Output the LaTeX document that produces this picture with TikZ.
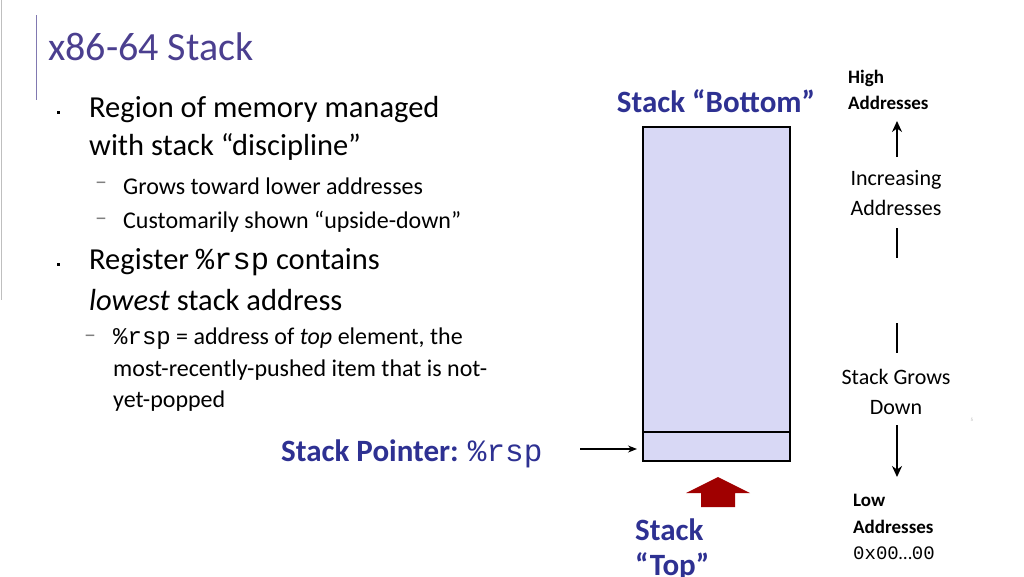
\documentclass[tikz,border=0pt]{standalone}
\usepackage{fontspec}
\setmainfont{Carlito}
\setmonofont{Liberation Mono}
\usetikzlibrary{arrows.meta}
\definecolor{ttl}{HTML}{4B3F8F}
\definecolor{stk}{HTML}{2E3192}
\definecolor{fillstk}{HTML}{D8D8F5}
\definecolor{redarr}{HTML}{A00000}
\tikzset{
  body/.style={anchor=west, inner sep=0pt, font=\fontsize{30.5}{32}\selectfont},
  sub/.style={anchor=west, inner sep=0pt, font=\fontsize{24}{26}\selectfont},
  lbl/.style={align=center, inner sep=0pt, font=\fontsize{22}{30}\selectfont},
  blbl/.style={align=left, inner sep=0pt, font=\bfseries\fontsize{19}{26.5}\selectfont},
  big/.style={inner sep=0pt, text=stk, font=\bfseries\fontsize{31}{36}\selectfont},
  bullet/.style={fill=black, inner sep=0pt, minimum size=3pt}
}
\begin{document}
\begin{tikzpicture}[x=1pt, y=-1pt]
\useasboundingbox (0,0) rectangle (1024,576);
\draw[gray!50, line width=1pt] (1,0) -- (1,300);
\draw[ttl!70, line width=1pt] (36,15) -- (36,100);
\node[anchor=west, inner sep=0pt, text=ttl, font=\fontsize{40}{44}\selectfont] (title) at (48,47) {x86-64 Stack};
% left text
\node[bullet] (b1) at (58,112) {};
\node[body] (t1) at (89,110) {Region of memory managed};
\node[body] (t2) at (89,147) {with stack “discipline”};
\node[sub, text=gray] (d1) at (95,186) {–};
\node[sub] (t3) at (123,186) {Grows toward lower addresses};
\node[sub, text=gray] (d2) at (95,222) {–};
\node[sub] (t4) at (123,222) {Customarily shown “upside-down”};
\node[bullet] (b2) at (58,264) {};
\node[body] (t5) at (89,262) {Register \texttt{\%rsp} contains};
\node[body] (t6) at (89,300) {\textit{lowest} stack address};
\node[sub, text=gray] (d3) at (84,339) {–};
\node[sub] (t7) at (113,339) {\texttt{\%rsp} = address of \textit{top} element, the};
\node[sub] (t8) at (113,370) {most-recently-pushed item that is not-};
\node[sub] (t9) at (113,401) {yet-popped};
% stack
\node[big, anchor=west] (sp) at (281,454) {Stack Pointer: \textmd{\texttt{\%rsp}}};
\draw[fill=fillstk, line width=1.2pt] (643,127) rectangle (790,461);
\draw[line width=1.2pt] (643,432) -- (790,432);
\coordinate (spin) at (637,449);
\draw[-{Stealth[length=9pt,width=7pt]}, line width=1.2pt] (580,449) -- (spin);
\node[big] (bot) at (716,101) {Stack “Bottom”};
\fill[redarr] (701,507) -- (701,493) -- (686,493) -- (718,477) -- (750,493) -- (735,493) -- (735,507) -- cycle;
\node[big, anchor=west] (top1) at (635,530) {Stack};
\node[big, anchor=west] (top2) at (635,566) {“Top”};
% right side
\node[blbl, anchor=west] (high) at (848,90) {High\\Addresses};
\node[lbl] (inc) at (896,193) {Increasing\\Addresses};
\draw[-{Stealth[length=11pt,width=10pt]}, line width=2pt] (897,157) -- (897,121);
\draw[line width=2pt] (897,228) -- (897,258);
\draw[line width=2pt] (897,323) -- (897,353);
\node[lbl] (grow) at (896,392) {Stack Grows\\Down};
\draw[-{Stealth[length=11pt,width=10pt]}, line width=2pt] (897,425) -- (897,477);
\node[blbl, anchor=north west] (low) at (853,494) {Low\\Addresses\\\textmd{\texttt{0x00}…\texttt{00}}};
\node[text=gray!60, font=\tiny] (pg) at (972,420) {5};
\end{tikzpicture}
\end{document}
